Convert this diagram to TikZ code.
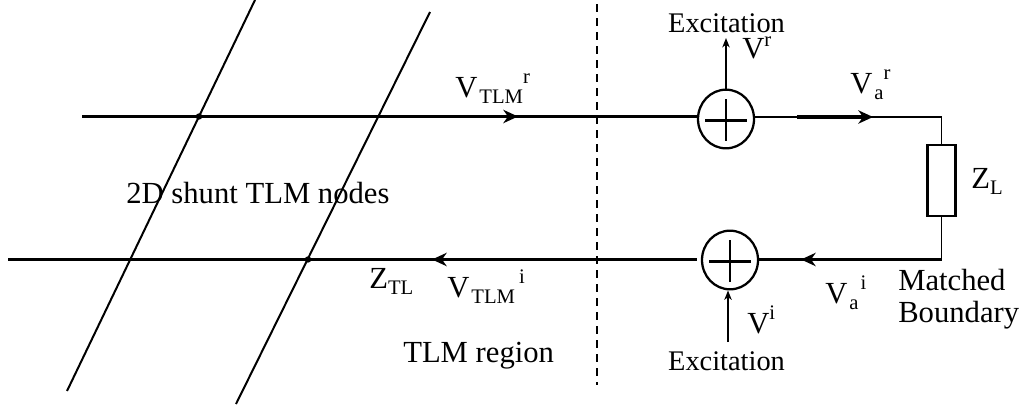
\documentclass[tikz,border=0pt]{standalone}
\usepackage{fontspec}
\setmainfont{Liberation Serif}
\usetikzlibrary{calc,arrows.meta,shapes.geometric}
\tikzset{
  labeltext/.style={font=\fontsize{23}{24}\selectfont,inner sep=0pt,anchor=base west,align=left},
  excite/.style={font=\fontsize{21.3}{24}\selectfont,inner sep=0pt,anchor=base},
  wire/.style={line width=1.8pt},
  slant/.style={line width=1.5pt},
  thinwire/.style={line width=1.2pt},
  flow/.style={line width=2.5pt,-{Stealth[length=11pt,width=10pt,inset=3.5pt]}},
  feed/.style={line width=1.2pt,-{Stealth[length=7pt,width=5.5pt,inset=2pt]}},
  adder/.style={draw,ellipse,line width=1.7pt,minimum width=42pt,minimum height=44pt,inner sep=0pt}
}
\newcommand{\smalltxt}[1]{\fontsize{15.5}{16}\selectfont #1}
\newcommand{\vlab}[3]{V\kern1.5pt\raisebox{-4.5pt}{\smalltxt{#1}}\kern#3\raisebox{10.5pt}{\smalltxt{#2}}}
\begin{document}
\begin{tikzpicture}[x=0.75pt,y=-0.75pt,>=latex]
  \useasboundingbox (0,0) rectangle (1031,407);
  \fill[white] (0,0) rectangle (1031,407);
  % TLM mesh
  \coordinate (Ta) at (82,116.5);
  \coordinate (Ba) at (8,259.5);
  \coordinate (Sa) at (255,0);
  \coordinate (Ea) at (67,391);
  \coordinate (Sb) at (430,12);
  \coordinate (Eb) at (236,404);
  \coordinate (Da) at (199,116.5);
  \coordinate (Db) at (308,259.5);
  \draw[slant] (Sa)--(Ea);
  \draw[slant] (Sb)--(Eb);
  \fill (Da) circle(3.2);
  \fill (Db) circle(3.2);
  % boundary
  \coordinate (Ua) at (597,4);
  \coordinate (Ub) at (597,385);
  \draw[line width=1.9pt,dash pattern=on 6pt off 4.5pt] (Ua)--(Ub);
  % adders
  \node[adder] (P) at (726,119) {};
  \node[adder] (Q) at (730,260) {};
  \foreach \n in {P,Q} {
    \draw[line width=2.2pt] ($(\n)+(-21,1.5)$)--($(\n)+(21,1.5)$);
    \draw[line width=2.2pt] ($(\n)+(0,-20)$)--($(\n)+(0,22)$);
  }
  % load
  \node[draw,line width=1.9pt,minimum width=21pt,minimum height=53.5pt,inner sep=0pt] (Z) at (941.5,180.5) {};
  \coordinate (Ca) at (941.5,117);
  \coordinate (Cb) at (941.5,259.5);
  % lines
  \draw[wire] (Ta)--(Ta -| P.west);
  \draw[thinwire] (P.east |- Ca)--(Ca)--(Z);
  \draw[thinwire] (Z)--(Cb);
  \draw[wire] (Cb)--(Cb -| Q.east);
  \draw[wire,shorten <=3pt] (Cb -| Q.west)--(Ba);
  % flow marks
  \coordinate (Aa) at (445,116.5);
  \coordinate (Ab) at (518,116.5);
  \coordinate (Ac) at (797,117);
  \coordinate (Ad) at (873,117);
  \coordinate (Ae) at (870,259.5);
  \coordinate (Af) at (801,259.5);
  \coordinate (Ag) at (507,259.5);
  \coordinate (Ah) at (432,259.5);
  \draw[flow] (Aa)--(Ab);
  \draw[flow] (Ac)--(Ad);
  \draw[flow] (Ae)--(Af);
  \draw[flow] (Ag)--(Ah);
  % excitation
  \node[excite] (Xa) at (726.5,32) {Excitation};
  \node[excite] (Xb) at (726.5,370) {Excitation};
  \coordinate (Xc) at (726,38);
  \coordinate (Xd) at (728,342);
  \draw[feed] (P)--(Xc);
  \draw[feed] (Xd)--(Xd |- Q.south);
  % labels
  \node[labeltext] (Lr) at (742,58) {V\raisebox{9pt}{\smalltxt{r}}};
  \node[labeltext] (Li) at (747,333) {V\raisebox{10pt}{\smalltxt{i}}};
  \node[labeltext] (La) at (455,97) {\vlab{TLM}{r}{0pt}};
  \node[labeltext] (Lb) at (850,93) {\vlab{a}{r}{0pt}};
  \node[labeltext] (Lc) at (447,297) {\vlab{TLM}{i}{3pt}};
  \node[labeltext] (Ld) at (825,303) {\vlab{a}{i}{1.5pt}};
  \node[labeltext] (Ze) at (369,288) {Z\raisebox{-4.5pt}{\smalltxt{TL}}};
  \node[labeltext] (Zl) at (971,188) {Z\raisebox{-4.5pt}{\smalltxt{L}}};
  \node[labeltext] (Tm) at (403,362) {TLM region};
  \node[labeltext] (Mb) at (898,322) {Matched\\Boundary};
  \node[labeltext] (Sh) at (126,203) {2D shunt TLM nodes};
\end{tikzpicture}
\end{document}
